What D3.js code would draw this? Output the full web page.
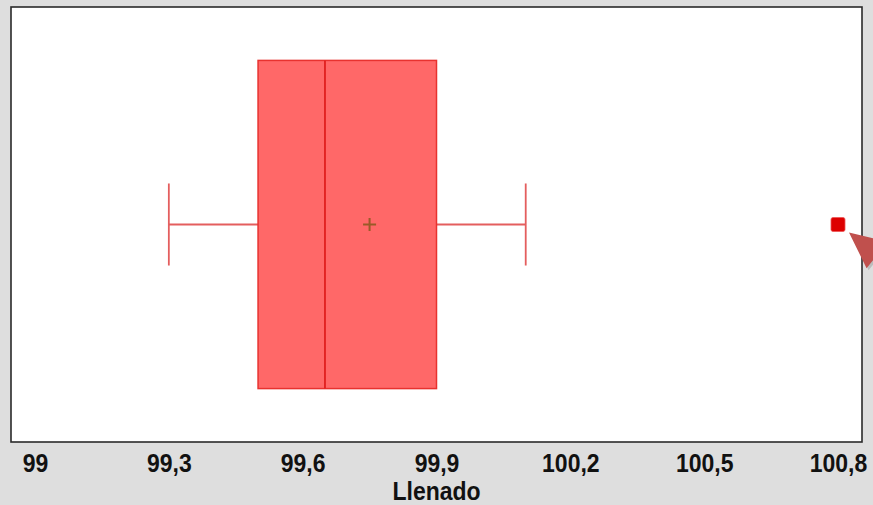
<!DOCTYPE html>
<html>
<head>
<meta charset="utf-8">
<script src="https://cdn.jsdelivr.net/npm/d3@7/dist/d3.min.js"></script>
<style>
  html, body { margin: 0; padding: 0; background: #dedede; }
  svg { display: block; }
</style>
</head>
<body>
<svg id="chart" width="873" height="505"></svg>
<script>
// Box plot summary for the "Llenado" variable
const categories = ["Llenado"];
const whiskerLow = [99.3];
const q1 = [99.5];
const median = [99.65];
const q3 = [99.9];
const whiskerHigh = [100.1];
const mean = [99.75];
const outliers = [100.8];
const tickValues = [99, 99.3, 99.6, 99.9, 100.2, 100.5, 100.8];

const svg = d3.select("#chart");
const W = 873, H = 505;
const frame = { left: 11, top: 7, right: 862, bottom: 442 };

svg.append("rect").attr("width", W).attr("height", H).attr("fill", "#dedede");

// plot panel
svg.append("rect")
  .attr("x", frame.left).attr("y", frame.top)
  .attr("width", frame.right - frame.left).attr("height", frame.bottom - frame.top)
  .attr("fill", "#ffffff");

const x = d3.scaleLinear().domain([99, 100.8]).range([35, 838]);
const y = d3.scaleBand().domain(categories)
  .range([frame.top, frame.bottom]).paddingInner(0.14).paddingOuter(0.14);

const boxStroke = "#e8322f";
const whiskerColor = "#e45e5e";

categories.forEach((c, i) => {
  const top = y(c), bw = y.bandwidth(), cy = top + bw / 2;
  const capH = bw * 0.25;

  // whiskers
  svg.append("line")
    .attr("x1", x(whiskerLow[i])).attr("x2", x(q1[i]))
    .attr("y1", cy).attr("y2", cy)
    .attr("stroke", whiskerColor).attr("stroke-width", 1.8);
  svg.append("line")
    .attr("x1", x(q3[i])).attr("x2", x(whiskerHigh[i]))
    .attr("y1", cy).attr("y2", cy)
    .attr("stroke", whiskerColor).attr("stroke-width", 1.8);
  [whiskerLow[i], whiskerHigh[i]].forEach(v => {
    svg.append("line")
      .attr("x1", x(v)).attr("x2", x(v))
      .attr("y1", cy - capH / 2).attr("y2", cy + capH / 2)
      .attr("stroke", whiskerColor).attr("stroke-width", 1.8);
  });

  // box
  svg.append("rect")
    .attr("x", x(q1[i])).attr("y", top)
    .attr("width", x(q3[i]) - x(q1[i])).attr("height", bw)
    .attr("fill", "#ff6868").attr("stroke", boxStroke).attr("stroke-width", 1.5);

  // median
  svg.append("line")
    .attr("x1", x(median[i])).attr("x2", x(median[i]))
    .attr("y1", top).attr("y2", top + bw)
    .attr("stroke", "#e0201f").attr("stroke-width", 1.8);

  // mean marker
  const mx = x(mean[i]), ms = 6.5;
  svg.append("path")
    .attr("d", `M${mx - ms},${cy}H${mx + ms}M${mx},${cy - ms}V${cy + ms}`)
    .attr("stroke", "#9a5a28").attr("stroke-width", 2).attr("fill", "none");

  // outliers
  svg.selectAll(null).data(outliers).enter().append("rect")
    .attr("x", d => x(d) - 7).attr("y", cy - 7)
    .attr("width", 14).attr("height", 14).attr("rx", 2)
    .attr("fill", "#dd0000").attr("stroke", "#ee5555").attr("stroke-width", 0.8);
});

// panel border
svg.append("rect")
  .attr("x", frame.left).attr("y", frame.top)
  .attr("width", frame.right - frame.left).attr("height", frame.bottom - frame.top)
  .attr("fill", "none").attr("stroke", "#2a2a2a").attr("stroke-width", 1.6);

// pointer arrow at the right edge
(function () {
  const tip = [849, 232.5];
  const ang = 38.5 * Math.PI / 180;
  const d = [Math.cos(ang), Math.sin(ang)], n = [Math.sin(ang), -Math.cos(ang)];
  const headL = 36, headW = 17, shaftW = 7, shaftL = 120;
  const B = [tip[0] + headL * d[0], tip[1] + headL * d[1]];
  const p = (base, a, b) => [base[0] + a * n[0] + b * d[0], base[1] + a * n[1] + b * d[1]];
  const pts = [tip, p(B, headW, 0), p(B, shaftW, 0), p(B, shaftW, shaftL),
               p(B, -shaftW, shaftL), p(B, -shaftW, 0), p(B, -headW, 0)];
  svg.append("path")
    .attr("d", d3.line()(pts.map(q => [q[0] + 2, q[1] + 2])) + "Z")
    .attr("fill", "#000").attr("opacity", 0.15);
  svg.append("path")
    .attr("d", d3.line()(pts) + "Z")
    .attr("fill", "#c0504d");
})();

// x axis labels
const labelFont = "'Liberation Sans', Arial, sans-serif";
const axis = d3.axisBottom(x)
  .tickValues(tickValues).tickSize(0)
  .tickFormat(d => String(d).replace(".", ","));
const gx = svg.append("g").attr("transform", "translate(0,471.5)").call(axis);
gx.select(".domain").remove();
gx.selectAll("text")
  .attr("y", 0).attr("dy", 0)
  .attr("transform", "scale(1,1.1)")
  .attr("fill", "#111")
  .style("font-family", labelFont)
  .style("font-weight", "bold").style("font-size", "23px");

// axis title
svg.append("text")
  .attr("transform", `translate(${(frame.left + frame.right) / 2},499.5) scale(1,1.1)`)
  .attr("text-anchor", "middle")
  .attr("fill", "#111")
  .style("font-family", labelFont)
  .style("font-weight", "bold").style("font-size", "23px")
  .text("Llenado");
</script>
</body>
</html>
